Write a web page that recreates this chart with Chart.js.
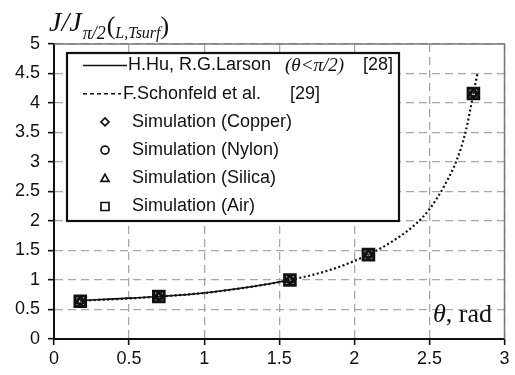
<!DOCTYPE html>
<html>
<head>
<meta charset="utf-8">
<script src="https://cdn.jsdelivr.net/npm/chart.js@4.4.1/dist/chart.umd.min.js"></script>
<style>
  html, body { margin: 0; padding: 0; background: #fff; }
</style>
</head>
<body>
<canvas id="fluxChart" width="515" height="375"></canvas>
<script>
// contact angle of the drop (rad): 10, 40, 90, 120 and 160 degrees
const theta = [0.175, 0.698, 1.571, 2.094, 2.793];
// simulated flux, normalised by the flux at pi/2
const copper = [0.64, 0.72, 1.0, 1.43, 4.16];
const nylon  = [0.64, 0.72, 1.0, 1.43, 4.16];
const silica = [0.64, 0.72, 1.0, 1.43, 4.16];
const air    = [0.64, 0.72, 1.0, 1.43, 4.16];

// H.Hu, R.G.Larson curve (theta < pi/2)
const huTheta = [0.175, 0.4, 0.698, 1.0, 1.3, 1.571];
const huFlux  = [0.65, 0.68, 0.72, 0.78, 0.88, 1.0];

// F.Schonfeld et al. curve
const schTheta = [0.175, 0.45, 0.698, 1.0, 1.3, 1.571, 1.85, 2.094, 2.25, 2.4, 2.5, 2.6, 2.68, 2.74, 2.793, 2.82];
const schFlux  = [0.65, 0.68, 0.72, 0.78, 0.88, 1.0, 1.18, 1.43, 1.65, 1.93, 2.2, 2.6, 3.02, 3.5, 4.16, 4.5];

const xTicks = [0, 0.5, 1, 1.5, 2, 2.5, 3];
const xLabels = ['0', '0.5', '1', '1.5', '2', '2.5', '3'];
const yTicks = [0, 0.5, 1, 1.5, 2, 2.5, 3, 3.5, 4, 4.5, 5];
const yLabels = ['0', '0.5', '1', '1.5', '2', '2.5', '3', '3.5', '4', '4.5', '5'];

const seriesNames = ['H.Hu, R.G.Larson', 'F.Schonfeld et al.', 'Simulation (Copper)',
  'Simulation (Nylon)', 'Simulation (Silica)', 'Simulation (Air)'];

const SANS = '"Liberation Sans", Arial, sans-serif';
const SERIF = '"Liberation Serif", "Times New Roman", serif';

const pts = (xs, ys) => xs.map((x, i) => ({ x: x, y: ys[i] }));

// legend drawn inside the plot, with the italic bits the library legend can't do
const boxLegend = {
  id: 'boxLegend',
  afterDatasetsDraw(chart) {
    const ctx = chart.ctx;
    const ds = chart.data.datasets;
    ctx.save();
    ctx.fillStyle = '#fff';
    ctx.fillRect(67, 53, 332, 168);
    ctx.lineWidth = 2.2;
    ctx.strokeStyle = '#111';
    ctx.strokeRect(67, 53, 332, 168);

    ctx.textBaseline = 'middle';
    ctx.fillStyle = '#111';
    ctx.font = '18px ' + SANS;
    for (let i = 0; i < ds.length; i++) {
      const y = 65.5 + i * 28.2;
      const d = ds[i];
      ctx.strokeStyle = '#111';
      if (i === 0) {
        ctx.lineWidth = 1.6;
        ctx.setLineDash([]);
        ctx.beginPath(); ctx.moveTo(83, y); ctx.lineTo(127, y); ctx.stroke();
        ctx.fillText(d.label, 128, y);
        ctx.font = 'italic 19px ' + SERIF;
        ctx.fillText('(θ<π/2)', 285, y);
        ctx.font = '18px ' + SANS;
        ctx.fillText('[28]', 363, y);
      } else if (i === 1) {
        ctx.lineWidth = 1.6;
        ctx.setLineDash([4, 3]);
        ctx.beginPath(); ctx.moveTo(83, y); ctx.lineTo(121, y); ctx.stroke();
        ctx.setLineDash([]);
        ctx.fillText(d.label, 123, y);
        ctx.fillText('[29]', 290, y);
      } else {
        drawMarker(ctx, d.pointStyle, 105, y, 4, 1.7);
        ctx.fillText(d.label, 132, y);
      }
    }
    ctx.restore();
  }
};

function drawMarker(ctx, style, x, y, r, w) {
  ctx.save();
  ctx.lineWidth = w;
  ctx.strokeStyle = '#111';
  ctx.beginPath();
  if (style === 'rectRot') {
    ctx.moveTo(x, y - r); ctx.lineTo(x + r, y); ctx.lineTo(x, y + r); ctx.lineTo(x - r, y); ctx.closePath();
  } else if (style === 'circle') {
    ctx.arc(x, y, r, 0, Math.PI * 2);
  } else if (style === 'triangle') {
    ctx.moveTo(x, y - r); ctx.lineTo(x + r, y + r * 0.75); ctx.lineTo(x - r, y + r * 0.75); ctx.closePath();
  } else {
    ctx.rect(x - r, y - r, 2 * r, 2 * r);
  }
  ctx.stroke();
  ctx.restore();
}

// plot frame on top/right plus the axis captions
const frameAndCaptions = {
  id: 'frameAndCaptions',
  beforeDatasetsDraw(chart) {
    const a = chart.chartArea;
    const ctx = chart.ctx;
    ctx.save();
    ctx.strokeStyle = '#777';
    ctx.lineWidth = 1.5;
    ctx.beginPath();
    ctx.moveTo(a.left, a.top); ctx.lineTo(a.right, a.top); ctx.lineTo(a.right, a.bottom);
    ctx.stroke();
    ctx.restore();
  },
  afterDraw(chart) {
    const ctx = chart.ctx;
    ctx.save();
    ctx.fillStyle = '#111';
    ctx.textBaseline = 'alphabetic';
    let x = 49;
    const put = (txt, font, y) => { ctx.font = font; ctx.fillText(txt, x, y); x += ctx.measureText(txt).width; };
    put('J/J', 'italic 28px ' + SERIF, 31);
    x += 1;
    put('π/2', 'italic 18px ' + SERIF, 39);
    x += 1;
    put('(', '26px ' + SERIF, 34);
    put('L,Tsurf', 'italic 16px ' + SERIF, 38);
    put(')', '26px ' + SERIF, 34);

    x = 433;
    put('θ', 'italic 26px ' + SERIF, 322);
    put(', rad', '26px ' + SERIF, 322);
    ctx.restore();
  }
};

const markerBase = {
  showLine: false,
  borderColor: '#111',
  backgroundColor: '#fff',
  pointBorderColor: '#111',
  pointBackgroundColor: 'rgba(255,255,255,0)'
};

new Chart(document.getElementById('fluxChart'), {
  type: 'line',
  data: {
    datasets: [
      {
        label: seriesNames[0],
        data: pts(huTheta, huFlux),
        borderColor: '#111',
        borderWidth: 1.6,
        pointRadius: 0,
        cubicInterpolationMode: 'monotone',
        order: 2
      },
      {
        label: seriesNames[1],
        data: pts(schTheta, schFlux),
        borderColor: '#111',
        borderWidth: 2.2,
        borderDash: [2, 2.5],
        pointRadius: 0,
        cubicInterpolationMode: 'monotone',
        order: 2
      },
      Object.assign({ label: seriesNames[2], data: pts(theta, copper), pointStyle: 'rectRot', pointRadius: 4.5, pointBorderWidth: 1.8, order: 1 }, markerBase),
      Object.assign({ label: seriesNames[3], data: pts(theta, nylon), pointStyle: 'circle', pointRadius: 3.5, pointBorderWidth: 1.8, order: 1 }, markerBase),
      Object.assign({ label: seriesNames[4], data: pts(theta, silica), pointStyle: 'triangle', pointRadius: 4, pointBorderWidth: 1.8, order: 1 }, markerBase),
      Object.assign({ label: seriesNames[5], data: pts(theta, air), pointStyle: 'rect', pointRadius: 7.5, pointBorderWidth: 3, order: 0 }, markerBase)
    ]
  },
  options: {
    responsive: false,
    animation: false,
    devicePixelRatio: 1,
    layout: { padding: { top: 44, right: 7, bottom: 0, left: 0 } },
    plugins: {
      legend: { display: false },
      tooltip: { enabled: false }
    },
    scales: {
      x: {
        type: 'linear',
        min: 0,
        max: 3,
        afterBuildTicks: s => { s.ticks = xTicks.map(v => ({ value: v })); },
        afterFit: s => { s.height = 36; },
        ticks: {
          color: '#111', font: { family: SANS, size: 18 }, padding: 3, maxRotation: 0,
          callback: (v, i) => xLabels[i]
        },
        grid: { color: '#a8a8a8', lineWidth: 1.3, tickColor: '#111', tickWidth: 1.6, tickLength: 6 },
        border: { color: '#111', width: 2, dash: [8, 5] }
      },
      y: {
        type: 'linear',
        min: 0,
        max: 5,
        afterBuildTicks: s => { s.ticks = yTicks.map(v => ({ value: v })); },
        afterFit: s => { s.width = 54; },
        ticks: {
          color: '#111', font: { family: SANS, size: 18 }, padding: 8,
          callback: (v, i) => yLabels[i]
        },
        grid: { color: '#a8a8a8', lineWidth: 1.3, tickColor: '#111', tickWidth: 1.6, tickLength: 6 },
        border: { color: '#111', width: 2, dash: [8, 5] }
      }
    }
  },
  plugins: [frameAndCaptions, boxLegend]
});
</script>
</body>
</html>
